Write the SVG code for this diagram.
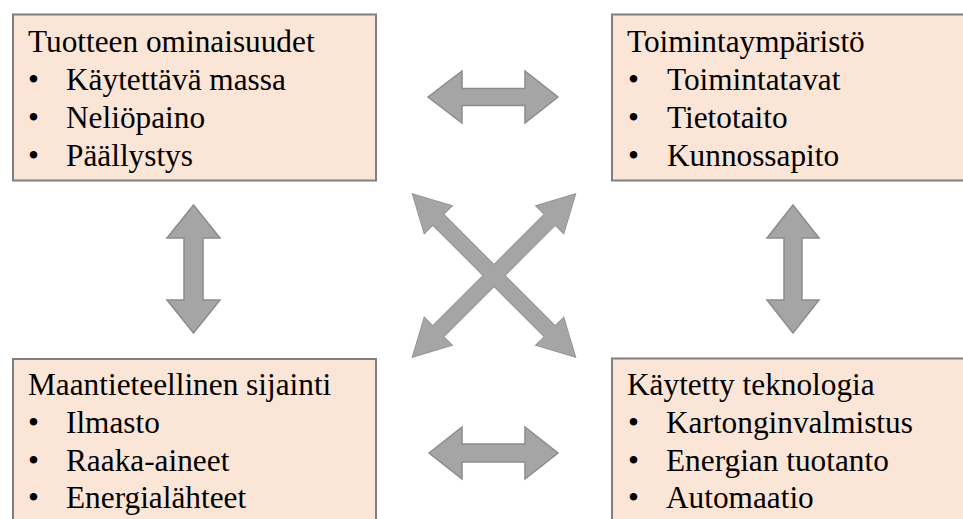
<svg xmlns="http://www.w3.org/2000/svg" width="963" height="519" viewBox="0 0 963 519">
<style>
.box{fill:#FBE5D6;stroke:#7F7F7F;stroke-width:2}
text{font-family:"Liberation Serif","Times New Roman",serif;font-size:31.3px;fill:#000}
.arr{fill:#A5A5A5;stroke:#8C8C8C;stroke-width:1.5;stroke-linejoin:miter}
.arrf{fill:#A5A5A5;stroke:none}
</style>
<defs>
<path id="dbl" d="M-115 0 L-79 -19.5 L-79 -7.5 L79 -7.5 L79 -19.5 L115 0 L79 19.5 L79 7.5 L-79 7.5 L-79 19.5 Z"/>
</defs>
<rect width="963" height="519" fill="#FFFFFF"/>
<g id="node-tuotteen">
<rect class="box" x="13" y="14.5" width="363" height="166"/>
<text x="28" y="52">Tuotteen ominaisuudet</text>
<text x="28" y="90">•</text><text x="66" y="90">Käytettävä massa</text>
<text x="28" y="128">•</text><text x="66" y="128">Neliöpaino</text>
<text x="28" y="166">•</text><text x="66" y="166">Päällystys</text>
</g>
<g id="node-toimintaymparisto">
<rect class="box" x="612" y="14.5" width="360" height="166"/>
<text x="627" y="52">Toimintaympäristö</text>
<text x="628" y="90">•</text><text x="667" y="90">Toimintatavat</text>
<text x="628" y="128">•</text><text x="667" y="128">Tietotaito</text>
<text x="628" y="166">•</text><text x="667" y="166">Kunnossapito</text>
</g>
<g id="node-maantieteellinen">
<rect class="box" x="13" y="359" width="363" height="170"/>
<text x="28" y="395">Maantieteellinen sijainti</text>
<text x="28" y="433">•</text><text x="66" y="433">Ilmasto</text>
<text x="28" y="471">•</text><text x="66" y="471">Raaka-aineet</text>
<text x="28" y="508">•</text><text x="66" y="508">Energialähteet</text>
</g>
<g id="node-kaytetty">
<rect class="box" x="612" y="358.5" width="360" height="170"/>
<text x="627" y="395">Käytetty teknologia</text>
<text x="628" y="433">•</text><text x="666" y="433">Kartonginvalmistus</text>
<text x="628" y="471">•</text><text x="666" y="471">Energian tuotanto</text>
<text x="628" y="508">•</text><text x="666" y="508">Automaatio</text>
</g>
<g id="connectors">
<path class="arr" d="M428 97 L462 71 L462 88.5 L525 88.5 L525 71 L558 97 L525 123 L525 105.5 L462 105.5 L462 123 Z"/>
<path class="arr" d="M429 453 L462 427 L462 444 L525 444 L525 427 L558 453 L525 479 L525 462 L462 462 L462 479 Z"/>
<path class="arr" d="M193.5 205 L220 238 L203 238 L203 300 L220 300 L193.5 333 L167 300 L184 300 L184 238 L167 238 Z"/>
<path class="arr" d="M793 205 L819 238 L802 238 L802 300 L819 300 L793 333 L767 300 L784 300 L784 238 L767 238 Z"/>
<g transform="translate(494 275.5)">
<use href="#dbl" class="arr" transform="rotate(45)"/>
<use href="#dbl" class="arr" transform="rotate(-45)"/>
<use href="#dbl" class="arrf" transform="rotate(45)"/>
<use href="#dbl" class="arrf" transform="rotate(-45)"/>
</g>
</g>
</svg>
